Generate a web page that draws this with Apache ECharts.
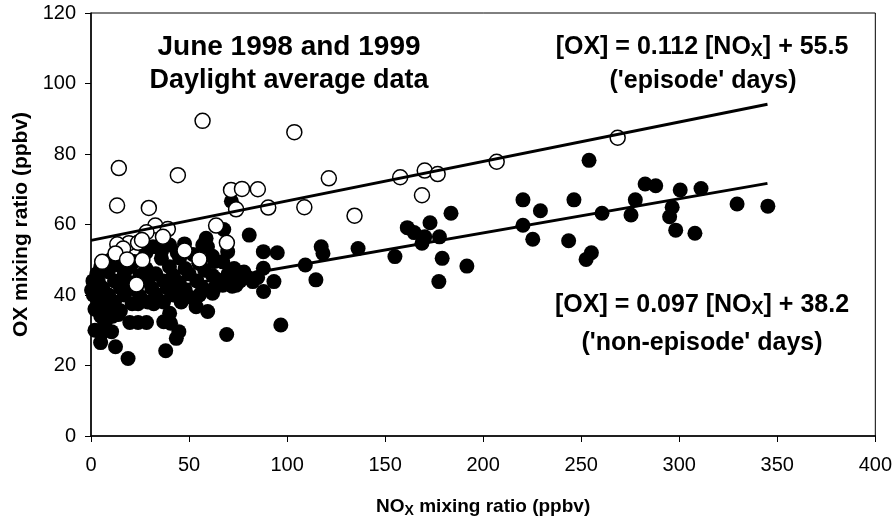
<!DOCTYPE html>
<html>
<head>
<meta charset="utf-8">
<script src="https://cdn.jsdelivr.net/npm/echarts@6/dist/echarts.min.js"></script>
<style>
  html, body { margin: 0; padding: 0; background: #fff; }
  #chart { width: 895px; height: 526px; }
</style>
</head>
<body>
<div id="chart"></div>
<script>
// NOx (ppbv) vs OX (ppbv), daylight averages, June 1998 and 1999

// 'episode' days (open circles): [NOx, OX]
const episodeDays = [
  [56.9, 89.4], [103.7, 86.2], [14.2, 76.0], [44.3, 74.0], [13.3, 65.4], [29.5, 64.7],
  [121.3, 73.1], [71.4, 69.8], [77.0, 70.1], [85.1, 70.0], [74.0, 64.3], [90.4, 64.8],
  [108.8, 64.9], [63.8, 59.7], [69.3, 54.8], [32.8, 59.7], [39.2, 58.7], [28.3, 57.8],
  [19.3, 54.7], [13.4, 54.4], [16.4, 53.2], [24.0, 54.8], [26.0, 55.6], [36.7, 56.5],
  [12.5, 51.8], [18.4, 50.1], [26.2, 49.9], [5.7, 49.4], [47.7, 52.6], [23.2, 43.0],
  [55.3, 50.1], [134.4, 62.5], [157.7, 73.4], [170.2, 75.3], [176.8, 74.3], [168.8, 68.3],
  [206.9, 77.8], [268.6, 84.6]
];

// 'non-episode' days (filled circles): [NOx, OX]
const nonEpisodeDays = [
  [254.0, 78.2], [282.6, 71.5], [288.0, 71.0], [300.5, 69.8], [311.1, 70.2], [329.5, 65.8], [345.2, 65.2],
  [220.3, 67.0], [229.2, 63.9], [246.3, 67.0], [260.6, 63.2], [277.6, 67.0], [275.4, 62.7], [296.4, 64.9],
  [295.1, 62.2], [298.2, 58.4], [308.0, 57.5], [220.3, 59.8], [225.3, 55.8], [243.6, 55.4], [255.2, 52.0],
  [252.5, 50.1], [183.6, 63.2], [172.9, 60.5], [161.3, 59.1], [164.8, 57.7], [168.8, 54.7], [170.2, 56.5],
  [177.7, 56.5], [179.1, 50.4], [191.7, 48.2], [177.4, 43.8], [155.0, 50.9], [136.2, 53.2], [117.4, 53.7],
  [118.3, 51.8], [109.3, 48.5], [114.7, 44.3], [95.0, 52.0], [87.9, 52.3], [80.7, 57.0], [82.5, 43.8],
  [87.9, 47.6], [93.3, 43.8], [96.8, 31.5],
  [71.6, 66.6], [67.7, 58.6], [58.7, 56.1], [57.0, 54.2], [69.7, 52.3], [67.2, 49.4], [69.2, 28.8],
  [59.5, 35.3], [53.6, 36.7], [55.3, 40.0], [74.0, 42.8], [67.2, 42.8], [59.4, 53.7], [78.0, 46.5],
  [76.0, 44.0], [80.0, 45.0], [88.0, 41.0],
  [31.6, 53.7], [40.1, 54.2], [47.7, 54.5],
  [28.0, 52.0], [36.0, 52.5], [44.0, 52.0], [52.0, 51.5], [62.0, 51.0],
  [10.0, 50.0], [16.0, 50.5], [22.0, 49.5], [35.9, 50.4], [45.2, 50.5], [55.0, 49.0], [63.0, 49.5],
  [5.0, 48.0], [13.9, 48.5], [20.0, 48.0], [28.0, 47.5], [40.0, 48.0], [48.0, 47.5], [58.0, 47.0], [73.0, 47.5],
  [3.0, 46.0], [8.8, 46.6], [17.0, 46.0], [25.0, 45.5], [33.0, 46.0], [42.0, 45.5], [50.0, 46.0], [62.0, 45.5],
  [70.0, 46.0], [1.0, 44.0], [3.7, 43.8], [12.0, 44.0], [20.0, 43.5], [29.0, 44.0], [37.0, 44.0], [45.0, 43.5],
  [54.0, 44.0], [64.0, 44.5], [85.0, 45.0],
  [0.3, 41.4], [6.0, 42.0], [15.0, 42.0], [23.0, 41.5], [31.0, 42.0], [39.0, 42.0], [48.0, 41.5], [57.0, 42.0],
  [63.0, 42.0], [72.0, 42.5],
  [1.2, 40.0], [9.0, 40.0], [17.0, 40.0], [25.0, 39.5], [33.0, 40.0], [42.0, 40.0], [50.0, 39.5], [62.0, 40.5],
  [4.0, 38.0], [12.0, 38.0], [21.0, 37.5], [29.0, 38.0], [37.0, 38.0], [46.0, 38.0],
  [2.0, 36.0], [8.0, 36.0], [15.0, 35.5], [24.0, 37.5], [32.0, 37.5], [40.1, 34.8],
  [5.0, 34.0], [11.0, 34.0], [14.0, 34.5],
  [7.1, 32.0], [19.8, 32.2], [24.0, 32.2], [28.3, 32.2], [37.1, 32.4], [40.6, 32.0],
  [2.0, 30.0], [5.4, 29.1], [10.5, 29.6], [44.8, 29.6],
  [4.9, 26.5], [43.5, 27.7], [12.5, 25.3], [38.1, 24.2], [18.9, 22.0]
];

// Least-squares fits quoted on the chart
const episodeFit = { slope: 0.112, intercept: 55.5, xEnd: 345 };
const nonEpisodeFit = { slope: 0.097, intercept: 38.2, xEnd: 345 };

// Axis ranges and tick steps
const xTicks = { min: 0, max: 400, step: 50 };
const yTicks = { min: 0, max: 120, step: 20 };

const FONT = '"Liberation Sans", Arial, Helvetica, sans-serif';

function fitLine(fit) {
  return [[0, fit.intercept], [fit.xEnd, fit.intercept + fit.slope * fit.xEnd]];
}

const chart = echarts.init(document.getElementById('chart'), null, { renderer: 'canvas' });

const boldRich = (size, subSize, subPad) => ({
  b: { fontFamily: FONT, fontWeight: 'bold', fontSize: size, color: '#000' },
  s: { fontFamily: FONT, fontWeight: 'bold', fontSize: subSize, color: '#000', padding: [subPad, 0, 0, 0] }
});

chart.setOption({
  animation: false,
  backgroundColor: '#fff',
  grid: {
    left: 91, right: 16, top: 13, bottom: 90,
    show: true, borderColor: '#000', borderWidth: 1, backgroundColor: 'transparent'
  },
  xAxis: {
    type: 'value',
    min: xTicks.min, max: xTicks.max, interval: xTicks.step,
    splitLine: { show: false },
    axisLine: { lineStyle: { color: '#000', width: 1.5 } },
    axisTick: { inside: false, length: 6, lineStyle: { color: '#000', width: 1 } },
    axisLabel: { color: '#000', fontFamily: FONT, fontSize: 20, margin: 19 },
    name: '{b|NO}{s|X}{b| mixing ratio (ppbv)}',
    nameLocation: 'middle',
    nameGap: 60,
    nameTextStyle: { rich: boldRich(19, 14, 8) }
  },
  yAxis: {
    type: 'value',
    min: yTicks.min, max: yTicks.max, interval: yTicks.step,
    splitLine: { show: false },
    axisLine: { lineStyle: { color: '#000', width: 1.5 } },
    axisTick: { inside: false, length: 6, lineStyle: { color: '#000', width: 1 } },
    axisLabel: { color: '#000', fontFamily: FONT, fontSize: 20, margin: 15 },
    name: 'OX mixing ratio (ppbv)',
    nameLocation: 'middle',
    nameGap: 57,
    nameTextStyle: { color: '#000', fontFamily: FONT, fontWeight: 'bold', fontSize: 21 }
  },
  series: [
    {
      name: 'non-episode',
      type: 'scatter',
      data: nonEpisodeDays,
      symbol: 'circle',
      symbolSize: 15,
      itemStyle: { color: '#000', borderColor: '#000', borderWidth: 0, opacity: 1 },
      z: 2
    },
    {
      name: 'episode',
      type: 'scatter',
      data: episodeDays,
      symbol: 'circle',
      symbolSize: 15,
      itemStyle: { color: '#fff', borderColor: '#000', borderWidth: 1.5, opacity: 1 },
      z: 3
    },
    {
      name: 'episode fit',
      type: 'line',
      data: fitLine(episodeFit),
      showSymbol: false,
      lineStyle: { color: '#000', width: 3 },
      z: 4
    },
    {
      name: 'non-episode fit',
      type: 'line',
      data: fitLine(nonEpisodeFit),
      showSymbol: false,
      lineStyle: { color: '#000', width: 3 },
      z: 4
    }
  ],
  graphic: [
    {
      type: 'text', x: 289, y: 47, z: 10,
      style: { text: 'June 1998 and 1999', fontFamily: FONT, fontWeight: 'bold', fontSize: 28, fill: '#000', align: 'center', verticalAlign: 'middle' }
    },
    {
      type: 'text', x: 289, y: 81, z: 10,
      style: { text: 'Daylight average data', fontFamily: FONT, fontWeight: 'bold', fontSize: 27, fill: '#000', align: 'center', verticalAlign: 'middle' }
    },
    {
      type: 'text', x: 702, y: 47, z: 10,
      style: {
        text: '{b|[OX] = ' + episodeFit.slope.toFixed(3) + ' [NO}{s|X}{b|] + ' + episodeFit.intercept.toFixed(1) + '}',
        rich: boldRich(25, 18, 9), align: 'center', verticalAlign: 'middle'
      }
    },
    {
      type: 'text', x: 703, y: 81, z: 10,
      style: { text: "('episode' days)", fontFamily: FONT, fontWeight: 'bold', fontSize: 25, fill: '#000', align: 'center', verticalAlign: 'middle' }
    },
    {
      type: 'text', x: 702, y: 305, z: 10,
      style: {
        text: '{b|[OX] = ' + nonEpisodeFit.slope.toFixed(3) + ' [NO}{s|X}{b|] + ' + nonEpisodeFit.intercept.toFixed(1) + '}',
        rich: boldRich(25, 18, 9), align: 'center', verticalAlign: 'middle'
      }
    },
    {
      type: 'text', x: 702, y: 343, z: 10,
      style: { text: "('non-episode' days)", fontFamily: FONT, fontWeight: 'bold', fontSize: 25, fill: '#000', align: 'center', verticalAlign: 'middle' }
    }
  ]
});
</script>
</body>
</html>
